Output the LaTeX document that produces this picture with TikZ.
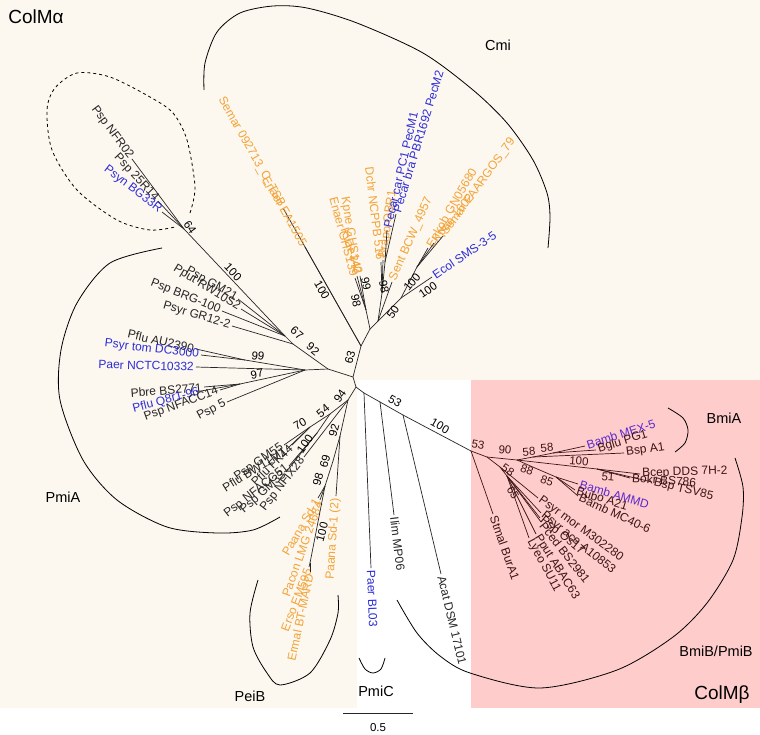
\documentclass[tikz,border=0pt]{standalone}
\usepackage{fontspec}
\setmainfont{Liberation Sans}
\usetikzlibrary{calc}
\definecolor{cream}{RGB}{252,247,239}
\definecolor{pinkbg}{RGB}{255,204,204}
\definecolor{orn}{RGB}{243,163,55}
\definecolor{blu}{RGB}{45,45,215}
\definecolor{pur}{RGB}{90,40,205}
\definecolor{brn}{RGB}{60,20,20}
\tikzset{
  br/.style={draw=black!85, line width=0.7pt},
  lf/.style={font=\fontsize{12}{12}\selectfont, inner sep=2pt, text=black!85},
  num/.style={font=\fontsize{11.5}{11.5}\selectfont, inner sep=0pt, text=black},
  clade/.style={font=\fontsize{14.5}{14.5}\selectfont, inner sep=0pt},
  bigl/.style={font=\fontsize{19}{19}\selectfont, inner sep=0pt},
  bk/.style={draw=black, line width=0.8pt},
  tor/.style={text=orn}, tbl/.style={text=blu}, tpu/.style={text=pur},
}
\newcommand\inode[4]{\coordinate (#1) at (#2,#3); \draw[br] (#4) -- (#1);}
\newcommand\leaf[7][]{%
  \coordinate (#4) at (#5,#6);
  \draw[br] (#3) -- (#4);
  \def\lfargA{#1}%
  \ifx\lfargA\empty
    \pgfmathanglebetweenpoints{\pgfpointanchor{#3}{center}}{\pgfpointanchor{#4}{center}}%
    \let\lfang\pgfmathresult
  \else
    \pgfmathparse{mod(#1+720,360)}\let\lfang\pgfmathresult
  \fi
  \pgfmathtruncatemacro\lfflip{(\lfang>90)*(\lfang<270)}%
  \ifnum\lfflip=1
    \node[lf,#2,anchor=east,rotate=\lfang+180] (#4-l) at (#4) {#7};
  \else
    \node[lf,#2,anchor=west,rotate=\lfang] (#4-l) at (#4) {#7};
  \fi}
\begin{document}
\begin{tikzpicture}[x=1pt,y=-1pt]
\useasboundingbox (0,0) rectangle (760,734);
\fill[white] (0,0) rectangle (760,734);
\fill[cream] (0,0) rectangle (760,380);
\fill[cream] (0,380) rectangle (357,708);
\fill[pinkbg] (471,380) rectangle (760,708);

% ---------- Cmi ----------
\coordinate (N0) at (353,377);
\inode{N63}{361}{346}{N0}
\inode{NC}{370}{329}{N63}
\inode{NK}{366}{310}{NC}
\inode{N50}{378}{321}{NC}
\inode{NM}{382}{293}{N50}
\inode{NPc}{385}{262}{NM}
\inode{N5}{401}{298}{N50}
\inode{NEn}{417}{267}{N5}
\leaf{tor}{N63}{semA}{283}{208}{Semar 092713\_C\_TSB}
\leaf{tor}{N63}{enEA}{305}{247}{Enaer EA1505}
\leaf[99]{tor}{NK}{kpne}{357}{276}{Kpne GHS140}
\leaf[105]{tor}{NK}{enGH}{355}{278}{Enaer GHS139}
\leaf[108]{tor}{NK}{kvar}{360}{276}{Kvar 342}
\leaf[97]{tor}{NM}{dchr}{381}{262}{Dchr NCPPB 516}
\leaf[82]{tor}{NM}{brapo}{383}{260}{Brapo OBR1}
\leaf[77]{tbl}{NPc}{pec1}{387}{230}{Pecar car PC1 PecM1}
\leaf[73]{tbl}{NPc}{pec2}{396}{214}{Pecar bra PBR1692 PecM2}
\leaf[66]{tor}{N50}{sent}{392}{282}{Sent BCW\_4957}
\leaf[60]{tor}{NEn}{enkob}{428}{248}{Enkob GN05680}
\leaf[51]{tor}{NEn}{kpae}{434}{243}{Kpae 1602}
\leaf[54]{tor}{NEn}{semF}{443}{236}{Semar FAARGOS\_79}
\leaf{tbl}{N5}{ecol}{432}{277}{Ecol SMS-3-5}

% ---------- Pmi upper ----------
\inode{NL}{328}{369}{N0}
\inode{N92}{293}{344}{NL}
\inode{N67}{285}{336}{N92}
\inode{N64}{184}{229}{N67}
\leaf{}{N64}{nfr}{132}{159}{Psp NFR02}
\leaf{}{N64}{r25}{158}{201}{Psp 25R14}
\leaf{tbl}{N64}{bg33}{162}{212}{Psyn BG33R}
\leaf[150]{}{N67}{gm21}{238}{299}{Psp GM21}
\leaf{}{N67}{rw10}{241}{309}{Pput RW10S2}
\leaf{}{N67}{brg}{222}{311}{Psp BRG-100}
\leaf{}{N92}{gr12}{232}{326}{Psyr GR12-2}
\inode{NA}{305}{370}{NL}
\inode{N99}{245}{360}{NA}
\leaf{}{N99}{au23}{196}{349}{Pflu AU2390}
\leaf{tbl}{N99}{dc30}{201}{355}{Psyr tom DC3000}
\leaf{tbl}{NA}{nctc}{196}{367}{Paer NCTC10332}
\inode{N97}{240}{384}{NA}
\leaf{}{N97}{bs27}{204}{387}{Pbre BS2771}
\leaf[195]{tbl}{N97}{q8r}{201}{391}{Pflu Q8r1-96}
\leaf[200]{}{N97}{nf14}{220}{390}{Psp NFACC14}
\leaf[208]{}{NA}{psp5}{227}{402}{Psp 5}

% ---------- lower left ----------
\inode{NB}{356}{387}{N0}
\inode{N94}{348}{400}{NB}
\inode{N54}{330}{414}{N94}
\inode{N70}{310}{427}{N54}
\leaf{}{N70}{gm55}{284}{445}{Psp GM55}
\leaf[212]{}{N70}{bw11}{287}{449}{Pflu BW11M1}
\leaf{}{N70}{fk44}{292}{445}{Pflu FK44}
\inode{N100c}{317}{433}{N54}
\leaf[218]{}{N100c}{nf51}{289}{466}{Psp NFACC51}
\leaf[222]{}{N100c}{gm33}{286}{472}{Psp GM33}
\leaf{}{N94}{nfix}{304}{457}{Psp NFIX28}
\inode{N92b}{340}{436}{N94}
\leaf{tor}{N92b}{sd12}{336}{496}{Paana Sd-1 (2)}
\inode{N69}{333}{461}{N92b}
\inode{N98b}{325}{486}{N69}
\leaf{tor}{N98b}{sd1}{318}{498}{Paana Sd-1}
\leaf{tor}{N98b}{lmg}{320}{500}{Pacon LMG 24684}
\inode{N100e}{310}{563}{N98b}
\leaf[249]{tor}{N100e}{erso}{309}{567}{Erso EM595}
\leaf[258]{tor}{N100e}{ermal}{310}{572}{Ermal BT-MARD}

% ---------- right ----------
\inode{NP0}{364}{393}{NB}
\leaf{tbl}{NP0}{bl03}{371}{568}{Paer BL03}
\inode{NI}{380}{402}{NP0}
\leaf{}{NI}{ilim}{394}{515}{Ilim MP06}
\inode{NA2}{403}{415}{NI}
\leaf{}{NA2}{acat}{441}{574}{Acat DSM 17101}
\inode{NBm}{471}{451}{NA2}

\begin{scope}[br/.style={draw=brn,line width=0.7pt}, lf/.append style={text=brn}, num/.append style={text=brn}]
\leaf{}{NBm}{stmal}{493}{514}{Stmal BurA1}
\inode{NP1}{487}{457}{NBm}
\inode{N90}{517}{460}{NP1}
\inode{N58a}{533}{457}{N90}
\leaf[8]{}{N58a}{bspa1}{624}{453}{Bsp A1}
\inode{N58b}{553}{453}{N58a}
\leaf[18]{tpu}{N58b}{mex5}{585}{446}{Bamb MEX-5}
\leaf[17]{}{N58b}{pg1}{596}{450}{Bglu PG1}
\inode{N100}{597}{469}{N90}
\leaf[2]{}{N100}{dds}{640}{474}{Bcep DDS 7H-2}
\leaf[-4]{}{N100}{bokr}{630}{478}{Bokr BS786}
\leaf[-14]{}{N100}{tsv}{652}{482}{Bsp TSV85}
\inode{N88}{535}{468}{N90}
\inode{N85}{556}{477}{N88}
\leaf[-16]{tpu}{N85}{ammd}{578}{484}{Bamb AMMD}
\leaf[-17]{}{N85}{a21}{575}{490}{Bubo A21}
\leaf[-25]{}{N85}{mc40}{578}{496}{Bamb MC40-6}
\inode{N58p}{500}{467}{NP1}
\leaf[-36]{}{N58p}{mor}{538}{498}{Psyr mor M302280}
\inode{N65}{507}{476}{N58p}
\leaf[-39]{}{N65}{ace}{541}{513}{Psyr ace A10853}
\leaf[-39]{}{N65}{os17}{540}{518}{Psp Os17}
\leaf[-52]{}{N65}{pced}{541}{522}{Pced BS2981}
\leaf[-58]{}{N65}{abac}{536}{534}{Pput ABAC63}
\leaf[-62]{}{N65}{lyeo}{529}{538}{Lyeo SU11}
\node[num,rotate=-10] (s53b) at (478,445) {53};
\node[num,rotate=-5] (s90) at (505,450) {90};
\node[num,rotate=5] (s58a) at (529,452) {58};
\node[num,rotate=5] (s58b) at (547,448) {58};
\node[num,rotate=-5] (s100d) at (579,461) {100};
\node[num,rotate=-5] (s51) at (608,477) {51};
\node[num,rotate=-35] (s58c) at (508,470) {58};
\node[num,rotate=-20] (s88) at (527,470) {88};
\node[num,rotate=-20] (s85) at (547,481) {85};
\node[num,rotate=-60] (s65) at (513,493) {65};
\end{scope}

% ---------- support values ----------
\node[num,rotate=75] (s63) at (350,357) {63};
\node[num,rotate=-60] (s100a) at (322,290) {100};
\node[num,rotate=-78] (s98a) at (356,301) {98};
\node[num,rotate=-78] (s99a) at (366,284) {99};
\node[num,rotate=-78] (s98m) at (384,287) {98};
\node[num,rotate=55] (s50) at (393,312) {50};
\node[num,rotate=50] (s100b) at (412,282) {100};
\node[num,rotate=35] (s100c) at (428,290) {100};
\node[num,rotate=-55] (s64) at (190,227) {64};
\node[num,rotate=-47] (s100p) at (233,272) {100};
\node[num,rotate=-40] (s67) at (297,333) {67};
\node[num,rotate=-40] (s92) at (313,349) {92};
\node[num,rotate=-8] (s99) at (258,356) {99};
\node[num,rotate=10] (s97) at (257,374) {97};
\node[num,rotate=55] (s94) at (340,396) {94};
\node[num,rotate=40] (s54) at (323,411) {54};
\node[num,rotate=30] (s70) at (300,424) {70};
\node[num,rotate=55] (s100g) at (305,444) {100};
\node[num,rotate=75] (s92b) at (334,430) {92};
\node[num,rotate=75] (s69) at (325,461) {69};
\node[num,rotate=75] (s98b) at (318,479) {98};
\node[num,rotate=75] (s100e) at (322,532) {100};
\node[num,rotate=-30] (s53) at (395,401) {53};
\node[num,rotate=-30] (s100f) at (440,426) {100};

% ---------- clade brackets ----------
\draw[bk] plot[smooth] coordinates {(204,90) (205,63) (217,32) (240,13) (273,6) (307,8) (357,23) (423,53) (473,90) (507,123) (533,160) (547,193) (550,217) (548,248)};
\draw[bk,dashed] plot[smooth] coordinates {(190,213) (195,187) (187,140) (173,113) (150,97) (110,77) (77,73) (55,88) (47,110) (52,150) (77,190) (117,220) (150,230) (175,227)};
\draw[bk] plot[smooth] coordinates {(162,248) (110,263) (77,303) (61,350) (60,400) (83,460) (117,500) (167,527) (217,533) (253,530) (280,517)};
\draw[bk] plot[smooth] coordinates {(258,580) (250,613) (253,647) (267,673) (280,685) (310,673) (330,640) (338,613) (338,595)};
\draw[bk] plot[smooth] coordinates {(359,658) (365,669) (373,673) (381,669) (385,658)};
\draw[bk] plot[smooth] coordinates {(668,408) (683,418) (688,430) (685,443) (675,452)};
\draw[bk] plot[smooth] coordinates {(397,600) (417,633) (440,656) (470,673) (540,688) (617,670) (673,637) (707,603) (733,560) (742,517) (743,487) (735,458)};

% ---------- clade labels ----------
\node[bigl] (colma) at (36,17) {ColMα};
\node[bigl] (colmb) at (722,695) {ColMβ};
\node[clade] (cmi) at (498,45) {Cmi};
\node[clade] (pmia) at (63,497) {PmiA};
\node[clade] (peib) at (250,696) {PeiB};
\node[clade] (pmic) at (376,691) {PmiC};
\node[clade] (bmia) at (724,418) {BmiA};
\node[clade] (bmib) at (716,651) {BmiB/PmiB};

% ---------- scale bar ----------
\coordinate (sb1) at (343,713);
\coordinate (sb2) at (413,713);
\draw[br] (sb1) -- (sb2);
\node[num] (sbl) at (378,728) {0.5};
\end{tikzpicture}
\end{document}
